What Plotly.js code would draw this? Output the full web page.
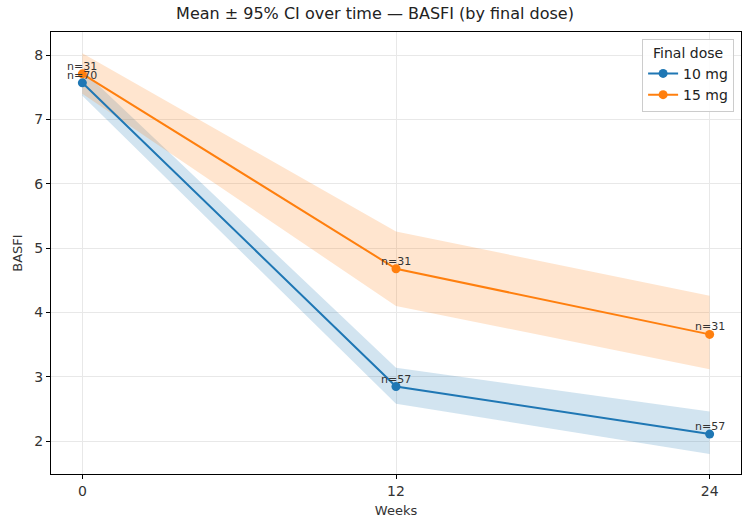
<!DOCTYPE html>
<html>
<head>
<meta charset="utf-8">
<script src="https://cdn.plot.ly/plotly-3.0.1.min.js"></script>
<style>html,body{margin:0;padding:0;background:#fff;}#chart{width:750px;height:520px;}</style>
</head>
<body>
<div id="chart"></div>
<script>
const weeks = [0, 12, 24];
const doses = ["10 mg", "15 mg"];
const mean10 = [7.57, 2.85, 2.11];
const lo10 = [7.37, 2.58, 1.80];
const hi10 = [7.77, 3.14, 2.46];
const n10 = [70, 57, 57];
const mean15 = [7.71, 4.68, 3.66];
const lo15 = [7.40, 4.10, 3.12];
const hi15 = [8.03, 5.26, 4.26];
const n15 = [31, 31, 31];

const colors = ["#1f77b4", "#ff7f0e"];
const bandColors = ["rgba(31,119,180,0.2)", "rgba(255,127,14,0.2)"];
const series = [
  {name: doses[0], mean: mean10, lo: lo10, hi: hi10, n: n10},
  {name: doses[1], mean: mean15, lo: lo15, hi: hi15, n: n15}
];

const traces = [];
series.forEach((s, i) => {
  traces.push({x: weeks, y: s.lo, mode: "lines", line: {width: 0, color: bandColors[i]}, showlegend: false, hoverinfo: "skip"});
  traces.push({x: weeks, y: s.hi, mode: "lines", line: {width: 0, color: bandColors[i]}, fill: "tonexty", fillcolor: bandColors[i], showlegend: false, hoverinfo: "skip"});
});
series.forEach((s, i) => {
  traces.push({x: weeks, y: s.mean, mode: "lines+markers", name: s.name, line: {color: colors[i], width: 2}, marker: {color: colors[i], size: 9}});
});

const annotations = [];
series.forEach((s) => {
  weeks.forEach((w, j) => {
    annotations.push({x: w, y: s.mean[j], xref: "x", yref: "y", text: "n=" + s.n[j], showarrow: false,
      xanchor: "center", yanchor: "bottom", yshift: -1, font: {size: 11, color: "#333", family: "DejaVu Sans"}});
  });
});

const axisCommon = {showline: true, linecolor: "#000", linewidth: 1, mirror: true, ticks: "outside", ticklen: 4, tickcolor: "#000",
  showgrid: true, gridcolor: "#e8e8e8", gridwidth: 1, zeroline: false, tickfont: {size: 14, color: "#333"}};

const layout = {
  width: 750, height: 520,
  margin: {l: 51, r: 9, t: 32, b: 46},
  paper_bgcolor: "#fff", plot_bgcolor: "#fff",
  font: {family: "DejaVu Sans", color: "#222"},
  title: {text: "Mean ± 95% CI over time — BASFI (by final dose)", x: 0.5, xanchor: "center", y: 0.975, yanchor: "middle", font: {size: 16, color: "#222"}},
  xaxis: Object.assign({}, axisCommon, {range: [-1.2, 25.2], tickvals: weeks, ticktext: weeks.map(String),
    title: {text: "Weeks", font: {size: 13, color: "#333"}, standoff: 8}}),
  yaxis: Object.assign({}, axisCommon, {range: [1.49, 8.36], dtick: 1, tick0: 0,
    title: {text: "BASFI", font: {size: 13, color: "#333"}, standoff: 8}}),
  legend: {x: 0.99, xanchor: "right", y: 0.985, yanchor: "top", traceorder: "normal", bgcolor: "rgba(255,255,255,0.85)", bordercolor: "#ccc", borderwidth: 1,
    title: {text: "Final dose", side: "top center", font: {size: 14, color: "#222"}}, font: {size: 14, color: "#222"}, itemwidth: 30},
  annotations: annotations,
  showlegend: true
};

Plotly.newPlot("chart", traces, layout, {displayModeBar: false, staticPlot: true});
</script>
</body>
</html>
